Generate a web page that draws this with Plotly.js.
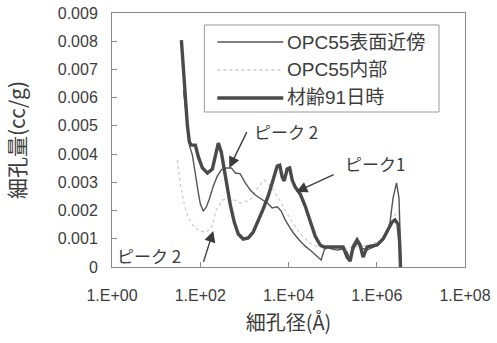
<!DOCTYPE html>
<html>
<head>
<meta charset="utf-8">
<script src="https://cdn.plot.ly/plotly-3.0.1.min.js"></script>
<style>html,body{margin:0;padding:0;background:#fff;}#chart{width:497px;height:343px;}</style>
</head>
<body>
<div id="chart"></div>
<script>
// 材齢91日時 (thick)
const d91 = [37.4, 41.5, 46, 51, 56.6, 63, 77.5, 90.6, 111.6, 145, 188, 220, 257, 300, 351, 410, 480, 590, 728, 944, 1225, 1589, 2062, 2677, 3474, 4509, 5550, 6320, 7197, 7992, 9345, 10650, 12130, 14190, 18400, 23880, 30990, 40200, 52160, 64200, 87800, 126400, 172900, 212900, 249000, 291000, 358000, 419000, 490000, 604000, 783000, 1016000, 1390000, 1803000, 2218000, 2594000, 3034000, 3280000, 3453000];
const v91 = [0.00804, 0.00698, 0.00592, 0.00503, 0.00443, 0.00432, 0.00432, 0.00390, 0.00351, 0.00333, 0.00347, 0.00390, 0.00439, 0.00407, 0.00344, 0.00273, 0.00220, 0.00159, 0.00117, 0.00099, 0.00103, 0.00124, 0.00163, 0.00206, 0.00252, 0.00308, 0.00358, 0.00361, 0.00319, 0.00305, 0.00347, 0.00351, 0.00308, 0.00283, 0.00259, 0.00216, 0.00163, 0.00110, 0.00078, 0.00071, 0.00071, 0.00071, 0.00071, 0.00035, 0.00021, 0.00071, 0.00096, 0.00078, 0.00035, 0.00071, 0.00074, 0.00078, 0.00099, 0.00131, 0.00159, 0.00167, 0.00152, 0.00096, 0];

// OPC55表面近傍 (thin)
const dSurf = [42, 50, 56.6, 66.2, 73.6, 81.6, 90.6, 100.5, 117.5, 137.4, 160.7, 197.7, 243.6, 300, 389, 506, 622, 807, 1047, 1359, 1765, 2412, 3296, 4275, 5550, 6834, 8417, 10920, 13450, 17460, 23880, 32660, 44590, 54950, 64300, 75200, 92600, 126400, 172900, 212900, 249000, 291000, 358000, 465000, 604000, 824000, 1069000, 1390000, 1711000, 2000000, 2338000, 2805000, 3198000, 3548000];
const vSurf = [0.00624, 0.00514, 0.00432, 0.00397, 0.00358, 0.00308, 0.00262, 0.00223, 0.00198, 0.00213, 0.00241, 0.00287, 0.00322, 0.00344, 0.00351, 0.00351, 0.00333, 0.00330, 0.00298, 0.00273, 0.00255, 0.00241, 0.00227, 0.00209, 0.00213, 0.00198, 0.00167, 0.00138, 0.00117, 0.00096, 0.00074, 0.00057, 0.00039, 0.00025, 0.00060, 0.00071, 0.00064, 0.00060, 0.00064, 0.00053, 0.00028, 0.00060, 0.00085, 0.00067, 0.00060, 0.00071, 0.00078, 0.00096, 0.00120, 0.00159, 0.00244, 0.00298, 0.00244, 0];

// OPC55内部 (dotted, faint)
const dIn = [30.3, 35.5, 43.7, 53.8, 69.8, 95.5, 130, 178, 231, 316, 480, 807, 1359, 2062, 2818, 4275, 7197, 12130, 20420, 34360, 67600, 147900, 323000, 705000, 1318000, 2000000, 2594000, 3198000, 3548000];
const vIn = [0.00379, 0.00291, 0.00220, 0.00174, 0.00145, 0.00128, 0.00124, 0.00135, 0.00202, 0.00237, 0.00244, 0.00227, 0.00237, 0.00283, 0.00308, 0.00280, 0.00220, 0.00159, 0.00110, 0.00078, 0.00067, 0.00064, 0.00071, 0.00078, 0.00096, 0.00138, 0.00184, 0.00195, 0];

const seriesNames = ['OPC55表面近傍', 'OPC55内部', '材齢91日時'];
const xTickVals = [1, 100, 10000, 1000000, 100000000];
const xTickText = ['1.E+00', '1.E+02', '1.E+04', '1.E+06', '1.E+08'];
const yTickVals = [0, 0.001, 0.002, 0.003, 0.004, 0.005, 0.006, 0.007, 0.008, 0.009];
const yTickText = ['0', '0.001', '0.002', '0.003', '0.004', '0.005', '0.006', '0.007', '0.008', '0.009'];

const FONT = 'Liberation Sans, Arial, Noto Sans CJK JP, sans-serif';
const CJK = 'Noto Sans CJK JP, Liberation Sans, sans-serif';
const TXT = '#3c3c3c';

const traces = [
  {x: dIn, y: vIn, name: seriesNames[1], mode: 'lines', line: {color: '#cdcdcd', width: 1.3, dash: 'dot'}, showlegend: false},
  {x: dSurf, y: vSurf, name: seriesNames[0], mode: 'lines', line: {color: '#555', width: 1.4}, showlegend: false},
  {x: d91, y: v91, name: seriesNames[2], mode: 'lines', line: {color: '#4a4a4a', width: 3.4}, showlegend: false}
];

// legend drawn in paper coords
const legRows = [0.8858, 0.7756, 0.6654];
const legStyles = [{color: '#555', width: 1.4}, {color: '#cdcdcd', width: 1.3, dash: 'dot'}, {color: '#4a4a4a', width: 3.4}];
const shapes = [
  {type: 'rect', xref: 'paper', yref: 'paper', x0: 0.2617, x1: 0.9264, y0: 0.6102, y1: 0.9528, line: {color: '#999', width: 1}, fillcolor: '#fff', layer: 'above'}
];
const annotations = [];
for (let i = 0; i < 3; i++) {
  shapes.push({type: 'line', xref: 'paper', yref: 'paper', x0: 0.2984, x1: 0.4851, y0: legRows[i], y1: legRows[i], line: legStyles[i], layer: 'above'});
  annotations.push({xref: 'paper', yref: 'paper', x: 0.4908, y: legRows[i], xanchor: 'left', yanchor: 'middle', text: seriesNames[i], showarrow: false, font: {family: FONT, size: 19, color: TXT}});
}
// peak labels
annotations.push({xref: 'paper', yref: 'paper', x: 0.3975, y: 0.5315, xanchor: 'left', yanchor: 'middle', text: 'ピーク 2', showarrow: false, font: {family: CJK, size: 17, color: TXT}});
annotations.push({xref: 'paper', yref: 'paper', x: 0.6549, y: 0.4094, xanchor: 'left', yanchor: 'middle', text: 'ピーク1', showarrow: false, font: {family: CJK, size: 17, color: TXT}});
annotations.push({xref: 'paper', yref: 'paper', x: 0.0099, y: 0.0472, xanchor: 'left', yanchor: 'middle', text: 'ピーク 2', showarrow: false, font: {family: CJK, size: 17, color: TXT}});
// arrows (tip in data coords, tail as pixel offset)
const arrowStyle = {showarrow: true, arrowhead: 2, arrowsize: 1.6, arrowwidth: 1.4, arrowcolor: '#3c3c3c', text: ' ', xref: 'x', yref: 'y'};
annotations.push(Object.assign({x: 2.658, y: 0.00351, ax: 21, ay: -43}, arrowStyle));
annotations.push(Object.assign({x: 4.174, y: 0.00266, ax: 41, ay: -19}, arrowStyle));
annotations.push(Object.assign({x: 2.296, y: 0.00128, ax: -13, ay: 41}, arrowStyle));

const layout = {
  width: 497, height: 343,
  margin: {l: 112, r: 32, t: 13, b: 76},
  paper_bgcolor: '#fff', plot_bgcolor: '#fff',
  font: {family: FONT, size: 16, color: TXT},
  xaxis: {
    type: 'log', range: [0, 8], tickvals: xTickVals, ticktext: xTickText,
    showgrid: false, zeroline: false, showline: true, linecolor: '#888', linewidth: 1, mirror: true,
    ticks: 'inside', ticklen: 5, tickcolor: '#888', ticklabelstandoff: 14,
    tickfont: {family: FONT, size: 16, color: TXT},
    title: {text: '細孔径(Å)', font: {family: CJK, size: 20, color: TXT}, standoff: 12}
  },
  yaxis: {
    range: [0, 0.009], tickvals: yTickVals, ticktext: yTickText,
    showgrid: false, zeroline: false, showline: true, linecolor: '#888', linewidth: 1, mirror: true,
    ticks: 'inside', ticklen: 5, tickcolor: '#888', ticklabelstandoff: 10,
    tickfont: {family: FONT, size: 16, color: TXT},
    title: {text: '細孔量(cc/g)', font: {family: CJK, size: 21, color: TXT}, standoff: 26}
  },
  shapes: shapes,
  annotations: annotations,
  showlegend: false
};

Plotly.newPlot('chart', traces, layout, {displayModeBar: false, staticPlot: true});
</script>
</body>
</html>
